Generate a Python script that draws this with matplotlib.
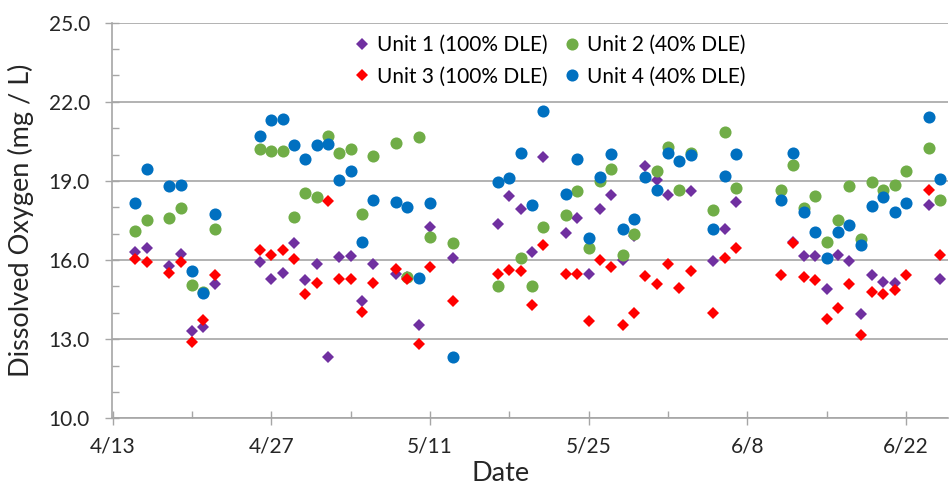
import datetime as dt

import numpy as np
import matplotlib
matplotlib.use("Agg")
import matplotlib.pyplot as plt
import matplotlib.dates as mdates
from matplotlib.ticker import FixedLocator, FormatStrFormatter, FuncFormatter

plt.rcParams['font.family'] = ['Lato', 'DejaVu Sans']

# sampling dates (month/day) and dissolved oxygen readings, mg/L
# None = point hidden behind another marker in the original
dates = ["4/15", "4/16", "4/18", "4/19", "4/20", "4/21", "4/22",
         "4/26", "4/27", "4/28", "4/29", "4/30", "5/1", "5/2", "5/3", "5/4", "5/5", "5/6",
         "5/8", "5/9", "5/10", "5/11", "5/13",
         "5/17", "5/18", "5/19", "5/20", "5/21",
         "5/23", "5/24", "5/25", "5/26", "5/27", "5/28", "5/29", "5/30", "5/31", "6/1", "6/2", "6/3",
         "6/5", "6/6", "6/7",
         "6/11", "6/12", "6/13", "6/14", "6/15", "6/16", "6/17", "6/18", "6/19", "6/20", "6/21", "6/22",
         "6/24", "6/25"]

unit1 = [16.32, 16.47, 15.77, 16.21, 13.31, 13.46, 15.08,
         15.92, 15.29, 15.50, 16.63, 15.24, 15.84, 12.31, 16.13, 16.15, 14.45, 15.84,
         15.46, 15.35, 13.54, 17.26, 16.09,
         17.35, 18.42, 17.94, 16.32, 19.90,
         17.03, 17.60, 15.46, 17.92, 18.48, 16.00, 16.90, 19.58, 19.05, 18.48, None, 18.61,
         15.96, 17.19, 18.20,
         None, 16.70, 16.15, 16.15, 14.92, 16.18, 15.96, 13.97, 15.42, 15.17, 15.14, None,
         18.10, 15.29]

unit2 = [17.10, 17.51, 17.60, 17.97, 15.04, 14.80, 17.19,
         20.19, 20.12, 20.15, 17.64, 18.55, 18.40, 20.69, 20.07, 20.21, 17.73, 19.96,
         20.44, 15.36, 20.65, 16.88, 16.63,
         15.01, None, 16.06, 15.01, 17.26,
         17.69, 18.63, 16.47, 18.99, 19.45, 16.18, 17.00, None, 19.36, 20.27, 18.65, 20.06,
         17.88, 20.85, 18.74,
         18.67, 19.59, 17.98, 18.42, 16.69, 17.50, 18.82, 16.81, 18.95, 18.67, 18.86, 19.39,
         20.25, 18.29]

unit3 = [16.03, 15.94, 15.52, 15.94, 12.90, 13.73, 15.45,
         16.38, 16.18, 16.38, 16.05, 14.73, 15.13, 18.23, 15.27, 15.27, 14.03, 15.14,
         15.67, 15.29, 12.81, 15.73, 14.45,
         15.46, 15.62, 15.58, 14.30, 16.57,
         15.46, 15.46, 13.69, 15.99, 15.75, 13.53, 14.01, 15.39, 15.11, 15.86, 14.95, 15.58,
         13.98, 16.06, 16.44,
         15.43, 16.63, 15.37, 15.23, 13.78, 14.20, 15.08, 13.16, 14.77, 14.70, 14.85, 15.43,
         18.67, 16.18]

unit4 = [18.15, 19.45, 18.82, 18.86, 15.60, 14.74, 17.73,
         20.69, 21.32, 21.33, 20.35, 19.84, 20.35, 20.40, 19.02, 19.36, 16.68, 18.29,
         18.19, 18.00, 15.31, 18.17, 12.34,
         18.95, 19.11, 20.06, 18.07, 21.66,
         18.51, 19.83, 16.85, 19.15, 20.03, 17.19, 17.54, 19.15, 18.67, 20.06, 19.77, 19.97,
         17.19, 19.18, 20.03,
         18.26, 20.06, 17.83, 17.06, 16.06, 17.07, 17.32, 16.57, 18.04, 18.38, 17.83, 18.17,
         21.41, 19.09]

YEAR = 2015
x = [dt.date(YEAR, int(d.split("/")[0]), int(d.split("/")[1])) for d in dates]


def pts(vals):
    xs = [xi for xi, v in zip(x, vals) if v is not None]
    ys = [v for v in vals if v is not None]
    return xs, ys


fig = plt.figure(figsize=(9.5, 4.91), dpi=100)
ax = fig.add_axes([0.118, 0.148, 0.880, 0.806])

series = [
    (unit1, "Unit 1 (100% DLE)", "D", "#7030A0", 6.2),
    (unit2, "Unit 2 (40% DLE)", "o", "#70AD47", 8.7),
    (unit3, "Unit 3 (100% DLE)", "D", "#FF0000", 6.2),
    (unit4, "Unit 4 (40% DLE)", "o", "#0070C0", 8.7),
]
handles = []
for vals, name, mk, col, ms in series:
    xs, ys = pts(vals)
    h, = ax.plot(xs, ys, linestyle="none", marker=mk, markersize=ms,
                 color=col, markeredgewidth=0, label=name)
    handles.append(h)

start = mdates.date2num(dt.date(YEAR, 4, 13))
ax.set_xlim(start - 0.05, start + 73.7)
ax.set_ylim(10, 25)

ax.xaxis.set_major_locator(FixedLocator(start + np.arange(0, 71, 14)))
ax.xaxis.set_minor_locator(FixedLocator(start + np.arange(7, 71, 14)))
ax.xaxis.set_major_formatter(FuncFormatter(
    lambda v, p: "{}/{}".format(mdates.num2date(v).month, mdates.num2date(v).day)))
ax.yaxis.set_major_locator(FixedLocator(np.arange(10, 25.1, 3)))
ax.yaxis.set_minor_locator(FixedLocator([v for v in range(11, 25) if (v - 10) % 3]))
ax.yaxis.set_major_formatter(FormatStrFormatter("%.1f"))

ax.grid(axis="y", which="major", color="#A6A6A6", linewidth=1.2)
ax.set_axisbelow(True)
for s in ["top", "right"]:
    ax.spines[s].set_visible(False)
for s in ["left", "bottom"]:
    ax.spines[s].set_color("#A6A6A6")
    ax.spines[s].set_linewidth(1.2)

ax.tick_params(which="major", direction="inout", length=10, width=1, color="#A6A6A6",
               labelsize=15, labelcolor="#262626")
ax.tick_params(which="minor", direction="in", length=5, width=1, color="#A6A6A6")
ax.tick_params(axis="x", which="major", pad=8)
ax.tick_params(axis="y", which="major", pad=11)

ax.set_xlabel("Date", fontsize=19.5, color="#262626")
ax.xaxis.set_label_coords(0.465, -0.108)
ax.set_ylabel("Dissolved Oxygen (mg / L)", fontsize=19.5, color="#262626")
ax.yaxis.set_label_coords(-0.093, 0.5)

order = [handles[0], handles[2], handles[1], handles[3]]
ax.legend(order, [h.get_label() for h in order], ncol=2, loc="upper center",
          bbox_to_anchor=(0.522, 1.0), frameon=False, fontsize=15,
          handletextpad=0.2, columnspacing=0.7, labelspacing=0.55,
          handlelength=1.0, borderaxespad=0.2)

fig.savefig("out.png", dpi=100)
